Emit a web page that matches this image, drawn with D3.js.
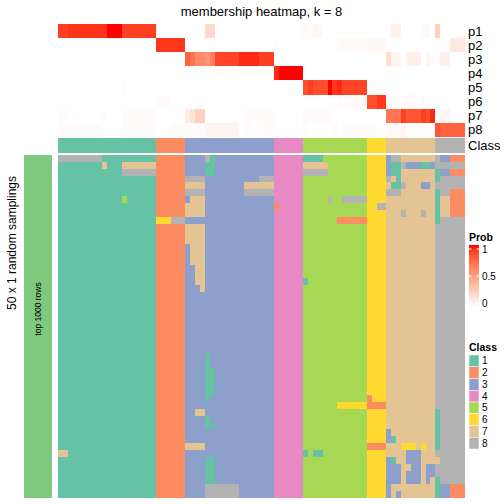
<!DOCTYPE html>
<html><head><meta charset="utf-8">
<script src="https://cdn.jsdelivr.net/npm/d3@7"></script>
<style>body{margin:0;background:#fff} svg{display:block} text{font-family:"Liberation Sans",Arial,Helvetica,sans-serif;fill:#000}</style>
</head><body><svg id="c" width="504" height="504"></svg>
<script>
// ---------------- data ----------------
const title = "membership heatmap, k = 8";
const probRows = ["p1","p2","p3","p4","p5","p6","p7","p8"];
const classLevels = [1,2,3,4,5,6,7,8];
const classColors = ["#66C2A5","#FC8D62","#8DA0CB","#E78AC3","#A6D854","#FFD92F","#E5C494","#B3B3B3"];
const probTicks = [0, 0.5, 1];
const rowAnnoLabel = "top 1000 rows";
const rowTitle = "50 x 1 random samplings";

// consensus class of each of the 83 columns
const columnClass = "11111111111111111111 222222 333333333333333333 444444 5555555555555 6666 7777777777 888888";

// membership probabilities, one value per column
const p1 = [.90,.90,.93,.93,.93,.93,.93,.93,.93,.93,1,1,1,.88,.90,.90,.90,.90,.90,.90,
  0,0,0,0,0,0,
  0,0,0,0,.20,.20,0,0,0,0,0,0,0,0,0,0,0,0,
  0,0,0,0,0,0,
  .04,.01,.04,.04,0,0,0,0,0,0,0,0,0,
  0,0,0,0,
  0,.07,.07,0,0,0,0,.03,.03,0,
  .25,0,0,0,0,0];
const p2 = [0,0,0,0,0,0,0,0,0,0,0,0,0,0,0,0,0,0,0,0,
  .92,.92,.92,.92,.92,.92,
  0,0,0,0,0,0,0,0,0,0,0,0,0,0,0,0,0,0,
  .02,0,0,0,0,0,
  0,0,0,0,0,0,0,.03,.03,.03,.03,.03,.03,
  .04,.04,.04,.04,
  0,0,0,0,0,0,0,0,0,0,
  0,0,0,.12,.12,.12];
const p3 = [0,0,0,0,0,0,0,0,0,0,0,0,0,0,0,0,0,0,0,0,
  0,0,0,0,0,0,
  .78,.70,.60,.60,.55,.65,.88,.88,.88,.88,.88,.95,.95,.95,.95,.90,.90,.90,
  0,0,0,0,0,0,
  0,0,0,0,0,0,0,0,0,0,0,0,0,
  0,0,0,0,
  .18,.06,.06,0,.08,.08,.08,0,.05,.02,
  0,.08,.08,0,0,0];
const p4 = [0,0,0,0,0,0,0,0,0,0,0,0,0,0,0,0,0,0,0,0,
  0,0,0,0,0,0,
  0,0,0,0,0,0,0,0,0,0,0,0,0,0,0,0,0,0,
  .95,1,1,1,1,1,
  0,0,0,0,0,0,0,0,0,0,0,0,0,
  0,0,0,0,
  0,0,0,0,0,0,0,0,0,0,
  0,0,0,0,0,0];
const p5 = [0,0,0,0,0,0,0,0,0,0,0,0,0,.02,0,0,0,0,0,0,
  0,0,0,0,0,0,
  0,0,0,0,0,0,0,0,0,0,0,0,0,0,0,0,0,0,
  0,0,0,0,0,0,
  .85,.90,.85,.85,.85,1,.92,.95,.88,.88,.88,.88,.88,
  0,0,0,0,
  0,0,0,0,0,0,0,0,0,0,
  0,0,0,0,0,0];
const p6 = [0,0,0,0,0,0,0,0,0,0,0,0,0,0,0,0,0,0,0,0,
  .02,.02,.02,0,0,0,
  0,0,0,0,0,0,0,0,0,0,0,0,0,0,0,0,0,0,
  0,0,0,0,0,0,
  0,0,0,0,0,0,0,.02,.02,.02,.02,.02,.02,
  .85,.85,.92,.92,
  0,0,0,.03,.03,.03,0,.03,0,0,
  0,0,0,0,0,0];
const p7 = [.02,.02,0,0,0,0,0,0,0,.02,0,0,0,.02,.02,.02,.02,.02,.02,.02,
  0,0,0,0,0,0,
  .10,.15,.25,.25,0,0,0,0,0,0,0,0,.02,.02,.02,.02,.02,.02,
  0,0,0,0,0,0,
  .02,.02,.02,.02,.02,.02,0,0,0,0,0,0,0,
  0,0,0,0,
  .68,.70,.70,.90,.82,.82,.82,.90,.85,.95,
  0,.05,.05,0,0,0];
const p8 = [.02,.02,.02,.02,.02,.02,.02,.02,.02,0,0,0,0,.02,.02,.02,.02,.02,.02,.02,
  0,0,0,.02,.02,.02,
  .02,.02,.02,.02,.06,.06,.06,.06,.06,.06,.06,0,.02,.02,0,.02,.02,.02,
  0,0,0,0,0,0,
  .02,0,0,0,0,0,.02,0,.02,.02,.02,.02,.02,
  .02,.02,0,0,
  .03,.03,.03,.05,0,0,0,0,0,0,
  .82,.78,.78,.78,.78,.78];

// class predicted in each of the 50 random samplings (rows) for each column
const samplingRows = [
"88888888811111111111 222222 333381333333333333 444444 1111555555555 6666 3887777777 833222",
"11111111171117777777 222222 333311333333333333 444444 7777755555555 6666 3118333113 888888",
"11111111111118888888 222222 333311333333333333 444444 8888855555555 6666 3117777777 133222",
"11111111111111111111 222222 888833333333333888 444444 5555555555555 6666 8717777777 188888",
"11111111111111111111 222222 777733333333777777 444444 5555555555555 6666 7118777337 888888",
"11111111111111111111 222222 888833333333888888 444444 5555555555555 6666 8887777777 188222",
"11111111111115111111 222222 377733333333333333 444444 5555585588888 6666 7777777777 177222",
"11111111111111111111 222222 777733333333333333 244444 5555555555555 6688 7777777777 177222",
"11111111111111111111 222222 777733333333333333 444444 5555555555555 6666 7778777877 177222",
"11111111111111111111 666888 333333333333333333 444444 5555555222222 6666 7777777777 188888",
"11111111111111111111 222222 777733333333333333 444444 5555555555555 6666 7777777777 888888",
"11111111111111111111 222222 777733333333333333 444444 5555555555555 6666 7777777777 888888",
"11111111111111111111 222222 777733333333333333 444444 5555555555555 6666 7777777777 888888",
"11111111111111111111 222222 377733333333333333 444444 5555555555555 6666 7777777777 888888",
"11111111111111111111 222222 377733333333333333 444444 5555555555555 6666 7777777777 888888",
"11111111111111111111 222222 377733333333333333 444444 5555555555555 6666 7777777777 888888",
"11111111111111111111 222222 337733333333333333 444444 5555555555555 6666 7777777777 888888",
"11111111111111111111 222222 337733333333333333 444444 5555555555555 6666 7777777777 888888",
"11111111111111111111 222222 337733333333333333 444444 1555555555555 6666 7777777777 888888",
"11111111111111111111 222222 333733333333333333 444444 5555555555555 6666 7777777777 888888",
"11111111111111111111 222222 333333333333333333 444444 5555555555555 6666 7777777777 888888",
"11111111111111111111 222222 333333333333333333 444444 5555555555555 6666 7777777777 888888",
"11111111111111111111 222222 333333333333333333 444444 5555555555555 6666 7777777777 888888",
"11111111111111111111 222222 333333333333333333 444444 5555555555555 6666 7777777777 888888",
"11111111111111111111 222222 333333333333333333 444444 5555555555555 6666 7777777777 888888",
"11111111111111111111 222222 333333333333333333 444444 5555555555555 6666 7777777777 888888",
"11111111111111111111 222222 333333333333333333 444444 5555555555555 6666 7777777777 888888",
"11111111111111111111 222222 333333333333333333 444444 5555555555555 6666 7777777777 888888",
"11111111111111111111 222222 333333333333333333 444444 5555555555555 6666 7777777777 888888",
"11111111111111111111 222222 333313333333333333 444444 5555555555555 6666 7777777777 888888",
"11111111111111111111 222222 333313333333333333 444444 5555555555555 6666 7777777777 888888",
"11111111111111111111 222222 333311333333333333 444444 5555555555555 6666 7777777777 888888",
"11111111111111111111 222222 333311333333333333 444444 5555555555555 6666 7777777777 888888",
"11111111111111111111 222222 333311333333333333 444444 5555555555555 6666 7777777777 888888",
"11111111111111111111 222222 333311333333333333 444444 5555555555555 6666 7777777777 888888",
"11111111111111111111 222222 333313333333333333 444444 5555555555555 2666 7777777777 888888",
"11111111111111111111 222222 333333333333333333 444444 5555555666666 2222 7777777777 888888",
"11111111111111111111 222222 337733333333333333 444444 5555555555555 6666 7777777777 188888",
"11111111111111111111 222222 333313333333333333 444444 5555555555555 6666 7777777777 188888",
"11111111111111111111 222222 333311333333333333 444444 5555555555555 6666 7777777777 188888",
"11111111111111111111 222222 333333333333333333 444444 5555555555555 6666 3777777777 188888",
"11111111111111111111 222222 333333333333333333 444444 5555555555555 6666 3177777777 188888",
"11111111111111111111 222222 777733333333333333 444444 5555555555555 2222 7776667677 188888",
"77111111111111111111 222222 333333333333333333 444444 1511555555555 6666 7777333777 888888",
"11111111111111111111 222222 333311333333333333 444444 5555555555555 6666 3177333777 788888",
"11111111111111111111 222222 333311333333333333 444444 5555555555555 6666 3337733733 888888",
"11111111111111111111 222222 333311333333333333 444444 5555555555555 6666 3337333733 888888",
"11111111111111111111 222222 333311333333333333 444444 5555555555555 6666 3337333737 188888",
"11111111111111111111 222222 333388888883333333 444444 5555555555555 6666 3777777777 133222",
"11111111111111111111 222222 333388888883333333 444444 5555555555555 6666 3737777777 133222"
];

// ---------------- drawing ----------------
const parse = s => s.replace(/ /g, "").split("").map(Number);
const colClass = parse(columnClass);
const grid = samplingRows.map(parse);
const probs = [p1, p2, p3, p4, p5, p6, p7, p8];
const nCol = colClass.length;

const svg = d3.select("#c");
const x = d3.scaleBand().domain(d3.range(nCol)).range([58, 464.7]);
const yTop = d3.scaleBand().domain(probRows).range([24, 136.8]);
const yBot = d3.scaleBand().domain(d3.range(grid.length)).range([155, 498]);
const classColor = d3.scaleOrdinal().domain(classLevels).range(classColors);
const probColor = d3.scaleLinear().domain([0, 1]).range(["#FFFFFF", "#FF0000"]).interpolate(d3.interpolateLab);

// title
svg.append("text").attr("x", 261.5).attr("y", 16).attr("text-anchor", "middle")
  .attr("font-size", 13).text(title);

// membership probability heatmap
const gTop = svg.append("g").attr("shape-rendering", "crispEdges");
probs.forEach((arr, i) => {
  gTop.selectAll(null).data(arr).enter().append("rect")
    .attr("x", (d, j) => x(j)).attr("width", x.bandwidth())
    .attr("y", yTop(probRows[i])).attr("height", yTop.bandwidth())
    .attr("fill", d => probColor(d));
});
// class annotation row
const classY0 = 137.7, classH = 15;
gTop.selectAll(null).data(colClass).enter().append("rect")
  .attr("x", (d, j) => x(j)).attr("width", x.bandwidth())
  .attr("y", classY0).attr("height", classH)
  .attr("fill", d => classColor(d));

// row labels
svg.selectAll(null).data(probRows).enter().append("text")
  .attr("x", 468).attr("y", d => yTop(d) + yTop.bandwidth() / 2 + 4.5)
  .attr("font-size", 13).text(d => d);
svg.append("text").attr("x", 468).attr("y", classY0 + classH / 2 + 4.5)
  .attr("font-size", 13).text("Class");

// sampling heatmap
const gBot = svg.append("g").attr("shape-rendering", "crispEdges");
grid.forEach((row, i) => {
  gBot.selectAll(null).data(row).enter().append("rect")
    .attr("x", (d, j) => x(j)).attr("width", x.bandwidth())
    .attr("y", yBot(i)).attr("height", yBot.bandwidth())
    .attr("fill", d => classColor(d));
});

// left row annotation
svg.append("rect").attr("x", 24).attr("y", 155).attr("width", 28).attr("height", 343)
  .attr("fill", "#7FC97F");
svg.append("text").attr("transform", "translate(41,309) rotate(-90)")
  .attr("text-anchor", "middle").attr("font-size", 8.5).text(rowAnnoLabel);
svg.append("text").attr("transform", "translate(16,243) rotate(-90)")
  .attr("text-anchor", "middle").attr("font-size", 12).text(rowTitle);

// Prob legend
const lg = svg.append("g");
lg.append("text").attr("x", 469).attr("y", 241).attr("font-size", 10.5)
  .attr("font-weight", "bold").text("Prob");
const defs = svg.append("defs");
const grad = defs.append("linearGradient").attr("id", "pg").attr("x1", 0).attr("y1", 1).attr("x2", 0).attr("y2", 0);
d3.range(0, 1.0001, 0.1).forEach(t => grad.append("stop").attr("offset", t).attr("stop-color", probColor(t)));
const ly = d3.scaleLinear().domain([0, 1]).range([303, 249]);
lg.append("rect").attr("x", 469).attr("y", 245).attr("width", 10).attr("height", 62).attr("fill", "url(#pg)");
lg.selectAll(null).data(probTicks).enter().append("line")
  .attr("x1", 469).attr("x2", 471.5).attr("y1", d => ly(d)).attr("y2", d => ly(d))
  .attr("stroke", "#fff").attr("stroke-width", 1);
lg.selectAll(null).data(probTicks).enter().append("line")
  .attr("x1", 476.5).attr("x2", 479).attr("y1", d => ly(d)).attr("y2", d => ly(d))
  .attr("stroke", "#fff").attr("stroke-width", 1);
lg.selectAll(null).data(probTicks).enter().append("text")
  .attr("x", 482).attr("y", d => ly(d) + 3.5).attr("font-size", 10).text(d => d);

// Class legend
const cg = svg.append("g");
cg.append("text").attr("x", 469).attr("y", 351).attr("font-size", 10.5)
  .attr("font-weight", "bold").text("Class");
const cy = d3.scaleBand().domain(classLevels).range([355, 449]);
cg.selectAll(null).data(classLevels).enter().append("rect")
  .attr("x", 469).attr("y", d => cy(d)).attr("width", 10).attr("height", cy.bandwidth())
  .attr("fill", d => classColor(d)).attr("stroke", "#fff").attr("stroke-width", 0.5);
cg.selectAll(null).data(classLevels).enter().append("text")
  .attr("x", 482).attr("y", d => cy(d) + cy.bandwidth() / 2 + 3.5).attr("font-size", 10).text(d => d);
</script></body></html>
